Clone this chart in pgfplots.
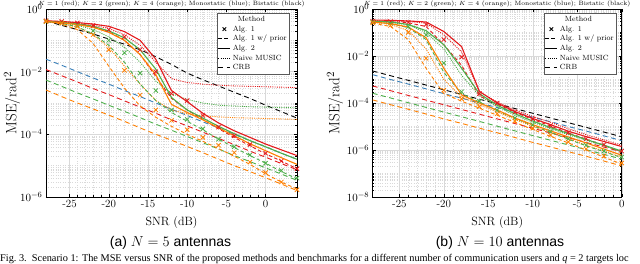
\documentclass[border=0pt]{standalone}
\usepackage{pgfplots}
\pgfplotsset{compat=1.18}
\usepackage{pgfplotstable}
\usepackage{fontspec}
\newfontfamily\capsans{Liberation Sans}
\newfontfamily\capserif{Liberation Serif}
\definecolor{cR}{HTML}{E41A1C}
\definecolor{cG}{HTML}{4DAF4A}
\definecolor{cO}{HTML}{FF7F00}
\definecolor{cB}{HTML}{377EB8}

\pgfplotstableread{
snr r1 rp r2 rm rc g1 gp g2 gm gc o1 op o2 om oc bl bk
-28 0.42 0.42 0.42 0.41 1.17e-2 0.40 0.40 0.40 0.40 5.4e-3 0.40 0.40 0.40 0.40 2.6e-3 2.5e-2 0.42
-26 0.40 0.39 0.40 0.38 7.4e-3 0.36 0.35 0.37 0.36 3.4e-3 0.35 0.33 0.36 0.34 1.6e-3 1.6e-2 0.30
-24 0.36 0.35 0.37 0.35 4.7e-3 0.30 0.27 0.33 0.30 2.1e-3 0.28 0.22 0.32 0.26 1.0e-3 1.0e-2 0.22
-22 0.30 0.28 0.33 0.30 2.9e-3 0.20 0.16 0.28 0.22 1.35e-3 0.15 0.08 0.26 0.15 6.5e-4 6.3e-3 0.16
-20 0.22 0.19 0.28 0.24 1.86e-3 0.10 0.07 0.20 0.13 8.5e-4 0.05 0.015 0.18 0.06 4.1e-4 4.0e-3 0.11
-18 0.13 0.10 0.19 0.15 1.17e-3 0.04 0.02 0.12 0.06 5.4e-4 0.011 3e-3 0.10 0.015 2.6e-4 2.5e-3 0.075
-16 0.05 0.035 0.10 0.07 7.4e-4 9e-3 4e-3 0.05 0.02 3.4e-4 1.8e-3 8e-4 0.035 4e-3 1.6e-4 1.6e-3 0.05
-14 0.01 7e-3 0.025 0.02 4.7e-4 2.5e-3 1.2e-3 0.012 5e-3 2.1e-4 6e-4 3.5e-4 8e-3 1.2e-3 1.0e-4 1.0e-3 0.03
-12 2e-3 1.4e-3 2.5e-3 6e-3 2.9e-4 6e-4 5e-4 1.5e-3 2e-3 1.35e-4 2.8e-4 1.8e-4 9e-4 6e-4 6.5e-5 6.3e-4 0.017
-10 1.2e-3 6e-4 1.1e-3 4.5e-3 1.86e-4 3e-4 2.6e-4 6e-4 1.3e-3 8.5e-5 1.4e-4 1e-4 5e-4 4.5e-4 4.1e-5 4e-4 9e-3
-8 4e-4 3e-4 4.7e-4 4e-3 1.17e-4 1.5e-4 1.4e-4 3.3e-4 1e-3 5.4e-5 8e-5 6e-5 2.9e-4 3.9e-4 2.6e-5 2.5e-4 5.5e-3
-6 1.7e-4 1.5e-4 2.3e-4 3.7e-3 7.4e-5 7e-5 7e-5 1.8e-4 8.5e-4 3.4e-5 4.5e-5 3.5e-5 1.6e-4 3.6e-4 1.6e-5 1.6e-4 3.5e-3
-4 9e-5 8e-5 1.3e-4 3.5e-3 4.7e-5 4e-5 3.8e-5 1.05e-4 8e-4 2.1e-5 2.6e-5 2e-5 9e-5 3.4e-4 1.0e-5 1e-4 2.2e-3
-2 4.7e-5 4.3e-5 8e-5 3.4e-3 2.9e-5 2.2e-5 2.1e-5 6.3e-5 7.6e-4 1.35e-5 1.3e-5 1.1e-5 5e-5 3.3e-4 6.5e-6 6.3e-5 1.4e-3
0 2.5e-5 2.4e-5 4.9e-5 3.3e-3 1.86e-5 1.2e-5 1.2e-5 4e-5 7.4e-4 8.5e-6 6e-6 5.5e-6 3e-5 3.2e-4 4.1e-6 4e-5 8.5e-4
2 1.4e-5 1.4e-5 3.2e-5 3.2e-3 1.17e-5 7e-6 6.5e-6 2.5e-5 7.2e-4 5.4e-6 3e-6 3e-6 1.8e-5 3.1e-4 2.6e-6 2.5e-5 5.3e-4
4 8e-6 8e-6 2.1e-5 3.1e-3 7.4e-6 4e-6 3.8e-6 1.6e-5 7e-4 3.4e-6 1.7e-6 1.8e-6 1.1e-5 3e-4 1.6e-6 1.6e-5 3.3e-4
}\tabA

\pgfplotstableread{
snr r1 rp r2 rm rc g1 gp g2 gm gc o1 op o2 om oc bl bk
-28 0.30 0.30 0.34 0.32 5.3e-4 0.28 0.28 0.30 0.29 2.6e-4 0.26 0.25 0.28 0.27 1.35e-4 1.6e-3 2.3e-3
-26 0.29 0.29 0.33 0.31 3.35e-4 0.25 0.24 0.28 0.27 1.64e-4 0.20 0.18 0.24 0.22 8.5e-5 1.0e-3 1.45e-3
-24 0.27 0.26 0.31 0.29 2.1e-4 0.18 0.16 0.22 0.21 1.03e-4 0.10 0.05 0.17 0.12 5.4e-5 6.4e-4 9.2e-4
-22 0.22 0.18 0.28 0.25 1.33e-4 0.08 0.05 0.12 0.10 6.5e-5 8e-3 3e-3 0.06 0.02 3.4e-5 4.0e-4 5.8e-4
-20 0.05 0.03 0.11 0.08 8.4e-5 5e-3 2e-3 0.03 0.02 4.1e-5 3.5e-4 2.5e-4 3e-3 1e-3 2.1e-5 2.5e-4 3.65e-4
-18 9e-3 4e-3 0.025 0.015 5.3e-5 3e-4 2.5e-4 3e-3 1.5e-3 2.6e-5 1.5e-4 1.2e-4 2.2e-4 1.8e-4 1.35e-5 1.6e-4 2.3e-4
-16 2.5e-4 2e-4 3.1e-4 3e-4 3.35e-5 1.2e-4 1.1e-4 2.5e-4 2e-4 1.64e-5 7e-5 6e-5 1e-4 8.5e-5 8.5e-6 1.0e-4 1.45e-4
-14 1e-4 9e-5 1e-4 1.1e-4 2.1e-5 5e-5 4.7e-5 8e-5 7e-5 1.03e-5 3.5e-5 3e-5 5e-5 4.2e-5 5.4e-6 6.4e-5 9.2e-5
-12 4.2e-5 4e-5 4.3e-5 5e-5 1.33e-5 2.3e-5 2.2e-5 3.5e-5 3e-5 6.5e-6 1.7e-5 1.5e-5 2.3e-5 2e-5 3.4e-6 4.0e-5 5.8e-5
-10 2.1e-5 2e-5 2.2e-5 2.7e-5 8.4e-6 1.2e-5 1.1e-5 1.7e-5 1.5e-5 4.1e-6 8.5e-6 7.5e-6 1.2e-5 1e-5 2.1e-6 2.5e-5 3.65e-5
-8 1.1e-5 1.05e-5 1.2e-5 1.5e-5 5.3e-6 6e-6 5.7e-6 9e-6 8e-6 2.6e-6 4.3e-6 3.8e-6 6.5e-6 5.5e-6 1.35e-6 1.6e-5 2.3e-5
-6 5.5e-6 5.3e-6 6.3e-6 8e-6 3.35e-6 3e-6 2.9e-6 5e-6 4.5e-6 1.64e-6 2.2e-6 2e-6 3.6e-6 3e-6 8.5e-7 1.0e-5 1.45e-5
-4 3e-6 2.9e-6 3.7e-6 4.5e-6 2.1e-6 1.6e-6 1.5e-6 2.8e-6 2.6e-6 1.03e-6 1.1e-6 1e-6 2e-6 1.6e-6 5.4e-7 6.4e-6 9.2e-6
-2 1.7e-6 1.6e-6 2.3e-6 2.7e-6 1.33e-6 9e-7 8.5e-7 1.6e-6 1.5e-6 6.5e-7 5.5e-7 5e-7 1.1e-6 9e-7 3.4e-7 4.0e-6 5.8e-6
0 9e-7 8.5e-7 1.4e-6 1.6e-6 8.4e-7 5e-7 4.7e-7 9e-7 8.5e-7 4.1e-7 2.8e-7 2.5e-7 6e-7 5e-7 2.1e-7 2.5e-6 3.65e-6
}\tabB

\tikzset{
 stalgone/.style={mark=x, mark size=3pt, line width=0.8pt},
 stprior/.style={dash pattern=on 3.5pt off 2.5pt, line width=0.9pt},
 stalgtwo/.style={solid, line width=1.1pt},
 stmusic/.style={dash pattern=on 1pt off 1.2pt, line width=0.9pt},
 stcrb/.style={dash pattern=on 5pt off 3.5pt, line width=0.9pt},
}

\newcommand{\legstuff}{%
 \addlegendimage{empty legend}\addlegendentry{\hspace{5pt}Method}
 \addlegendimage{black, only marks, stalgone, mark size=2.5pt}\addlegendentry{Alg. 1}
 \addlegendimage{black, no markers, stprior}\addlegendentry{Alg. 1 w/ prior}
 \addlegendimage{black, no markers, stalgtwo}\addlegendentry{Alg. 2}
 \addlegendimage{black, no markers, stmusic}\addlegendentry{Naive MUSIC}
 \addlegendimage{black, no markers, stcrb}\addlegendentry{CRB}
}
\newcommand{\allplots}[1]{%
 \addplot[cB, no markers, stcrb] table[x=snr, y=bl] {#1};
 \addplot[black, no markers, stcrb] table[x=snr, y=bk] {#1};
 \addplot[cR, no markers, stcrb] table[x=snr, y=rc] {#1};
 \addplot[cG, no markers, stcrb] table[x=snr, y=gc] {#1};
 \addplot[cO, no markers, stcrb] table[x=snr, y=oc] {#1};
 \addplot[cR, no markers, stmusic] table[x=snr, y=rm] {#1};
 \addplot[cG, no markers, stmusic] table[x=snr, y=gm] {#1};
 \addplot[cO, no markers, stmusic] table[x=snr, y=om] {#1};
 \addplot[cR, no markers, stprior] table[x=snr, y=rp] {#1};
 \addplot[cG, no markers, stprior] table[x=snr, y=gp] {#1};
 \addplot[cO, no markers, stprior] table[x=snr, y=op] {#1};
 \addplot[cR, no markers, stalgtwo] table[x=snr, y=r2] {#1};
 \addplot[cG, no markers, stalgtwo] table[x=snr, y=g2] {#1};
 \addplot[cO, no markers, stalgtwo] table[x=snr, y=o2] {#1};
 \addplot[cR, only marks, stalgone] table[x=snr, y=r1] {#1};
 \addplot[cG, only marks, stalgone] table[x=snr, y=g1] {#1};
 \addplot[cO, only marks, stalgone] table[x=snr, y=o1] {#1};
}

\begin{document}
\begin{tikzpicture}[x=1pt,y=1pt]
\useasboundingbox (0,0) rectangle (640,264);
\begin{axis}[at={(46pt,67pt)}, anchor=south west, scale only axis, width=251pt, height=188pt,
  xmin=-28, xmax=4, ymin=1e-6, ymax=1, ymode=log,
  ytick={1e-6,1e-4,1e-2,1},
  minor ytick={2e-6,3e-6,4e-6,5e-6,6e-6,7e-6,8e-6,9e-6,1e-5,2e-5,3e-5,4e-5,5e-5,6e-5,7e-5,8e-5,9e-5,2e-4,3e-4,4e-4,5e-4,6e-4,7e-4,8e-4,9e-4,1e-3,2e-3,3e-3,4e-3,5e-3,6e-3,7e-3,8e-3,9e-3,2e-2,3e-2,4e-2,5e-2,6e-2,7e-2,8e-2,9e-2,1e-1,2e-1,3e-1,4e-1,5e-1,6e-1,7e-1,8e-1,9e-1},
  grid=both,
  major grid style={draw=gray!30, line width=0.4pt},
  minor grid style={draw=gray!30, dotted, line width=0.4pt},
  axis line style={line width=0.5pt},
  xtick={-25,-20,-15,-10,-5,0}, xticklabels={-25,-20,-15,-10,-5,0},
  minor x tick num=4,
  tick align=inside, major tick length=3pt, minor tick length=1.5pt,
  tick style={line width=0.4pt, black},
  tick label style={font=\fontsize{11}{12}\selectfont},
  xlabel={SNR (dB)}, ylabel={MSE/rad$^2$},
  xlabel style={font=\fontsize{12}{14}\selectfont, at={(axis description cs:0.5,-0.15)}, anchor=base},
  ylabel style={font=\fontsize{15}{17}\selectfont, at={(axis description cs:-0.135,0.5)}, anchor=center},
  clip mode=individual,
  legend cell align=left,
  legend style={font=\fontsize{7.5}{8.5}\selectfont, draw=gray!70!black, line width=0.5pt, inner sep=1pt, row sep=-1.2pt, fill=white, at={(0.972,0.979)}, anchor=north east},
  legend image code/.code={\draw[#1,mark repeat=2,mark phase=2] plot coordinates {(0pt,0pt) (6pt,0pt) (12pt,0pt)};},
  ]
\legstuff
\allplots{\tabA}
\end{axis}
\begin{axis}[at={(372.7pt,67pt)}, anchor=south west, scale only axis, width=249pt, height=188pt,
  xmin=-28, xmax=0, ymin=1e-8, ymax=1, ymode=log,
  ytick={1e-8,1e-6,1e-4,1e-2,1},
  minor ytick={2e-8,3e-8,4e-8,5e-8,6e-8,7e-8,8e-8,9e-8,1e-7,2e-7,3e-7,4e-7,5e-7,6e-7,7e-7,8e-7,9e-7,2e-6,3e-6,4e-6,5e-6,6e-6,7e-6,8e-6,9e-6,1e-5,2e-5,3e-5,4e-5,5e-5,6e-5,7e-5,8e-5,9e-5,2e-4,3e-4,4e-4,5e-4,6e-4,7e-4,8e-4,9e-4,1e-3,2e-3,3e-3,4e-3,5e-3,6e-3,7e-3,8e-3,9e-3,2e-2,3e-2,4e-2,5e-2,6e-2,7e-2,8e-2,9e-2,1e-1,2e-1,3e-1,4e-1,5e-1,6e-1,7e-1,8e-1,9e-1},
  grid=both,
  major grid style={draw=gray!30, line width=0.4pt},
  minor grid style={draw=gray!30, dotted, line width=0.4pt},
  axis line style={line width=0.5pt},
  xtick={-25,-20,-15,-10,-5,0}, xticklabels={-25,-20,-15,-10,-5,0},
  minor x tick num=4,
  tick align=inside, major tick length=3pt, minor tick length=1.5pt,
  tick style={line width=0.4pt, black},
  tick label style={font=\fontsize{11}{12}\selectfont},
  xlabel={SNR (dB)}, ylabel={MSE/rad$^2$},
  xlabel style={font=\fontsize{12}{14}\selectfont, at={(axis description cs:0.5,-0.15)}, anchor=base},
  ylabel style={font=\fontsize{15}{17}\selectfont, at={(axis description cs:-0.151,0.5)}, anchor=center},
  clip mode=individual,
  legend cell align=left,
  legend style={font=\fontsize{7.5}{8.5}\selectfont, draw=gray!70!black, line width=0.5pt, inner sep=1pt, row sep=-1.2pt, fill=white, at={(0.981,0.979)}, anchor=north east},
  legend image code/.code={\draw[#1,mark repeat=2,mark phase=2] plot coordinates {(0pt,0pt) (6pt,0pt) (12pt,0pt)};},
  ]
\legstuff
\allplots{\tabB}
\end{axis}
\node[font=\fontsize{6.2}{7}\selectfont, anchor=base, inner sep=0pt] at (171.5,258) {$K=1$ (red); $K=2$ (green); $K=4$ (orange); Monostatic (blue); Bistatic (black)};
\node[font=\fontsize{6.2}{7}\selectfont, anchor=base, inner sep=0pt] at (497.2,258) {$K=1$ (red); $K=2$ (green); $K=4$ (orange); Monostatic (blue); Bistatic (black)};
\node[font=\capsans\fontsize{14}{16}\selectfont, anchor=base, inner sep=0pt] at (170.5,17.5) {(a) $N=5$ antennas};
\node[font=\capsans\fontsize{14}{16}\selectfont, anchor=base, inner sep=0pt] at (500,17.5) {(b) $N=10$ antennas};
\node[font=\capserif\fontsize{10.3}{12}\selectfont, anchor=base west, inner sep=0pt] at (0,2.5) {Fig.~3.\ \ Scenario 1: The MSE versus SNR of the proposed methods and benchmarks for a different number of communication users and {\itshape q} = 2 targets loc};
\end{tikzpicture}
\end{document}
